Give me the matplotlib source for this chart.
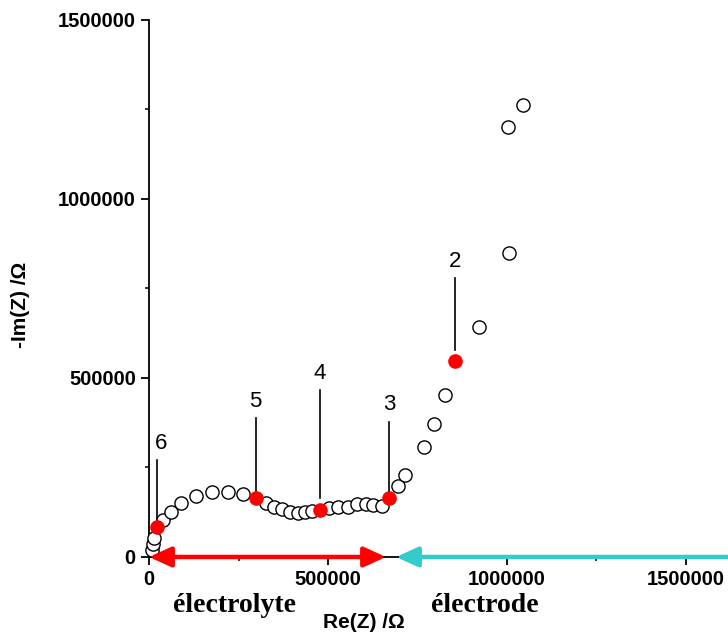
import matplotlib.pyplot as plt
from matplotlib.ticker import MultipleLocator

# impedance data (Nyquist plot)
re_open = [8000, 10000, 14000, 40000, 61500, 89400, 131000, 175000, 220000, 262000,
           326000, 350000, 372000, 394000, 417000, 436000, 456000,
           504000, 529000, 557000, 580000, 605000, 627000, 650000,
           695000, 715000, 769000, 797000, 827000, 922000, 1005000, 1003000, 1045000]
im_open = [20000, 35000, 52000, 103000, 126500, 151700, 171000, 181000, 182000, 176000,
           150000, 140500, 133000, 126500, 124000, 125000, 128500,
           136000, 140500, 140500, 148000, 148000, 145000, 143000,
           199000, 229000, 308000, 371500, 452500, 643000, 850000, 1202000, 1262000]

# marked points
re_mark = [23000, 298000, 478000, 670000, 855000]
im_mark = [84600, 164000, 131000, 164000, 548000]
mark_labels = ['6', '5', '4', '3', '2']
lead_top = [271000, 387000, 466000, 378000, 778000]
lead_bot = [84600, 164000, 164000, 164000, 578000]

ticks = [0, 500000, 1000000, 1500000]
tick_labels = ['0', '500000', '1000000', '1500000']

plt.rcParams['font.family'] = ['Liberation Sans', 'DejaVu Sans']

fig = plt.figure(figsize=(7.28, 6.34), dpi=100)
ax = fig.add_axes([0.2047, 0.1215, 0.7376, 0.847])

ax.plot(re_open, im_open, 'o', mfc='white', mec='black', ms=9.5, mew=1.0, zorder=4, clip_on=False)
ax.plot(re_mark, im_mark, 'o', color='#ff0000', ms=9.5, zorder=5, clip_on=False)

for x, lt, lb, lab in zip(re_mark, lead_top, lead_bot, mark_labels):
    dx = 10000 if lab == '6' else 0
    ax.plot([x, x], [lb, lt], color='black', lw=1.2, zorder=3)
    ax.text(x + dx, lt + 18000, lab, ha='center', va='bottom', fontsize=16)

# arrows electrolyte / electrode
ax.annotate('', xy=(0, 0), xytext=(662000, 0), annotation_clip=False,
            arrowprops=dict(arrowstyle='<|-|>,head_length=1.1,head_width=0.5',
                            color='#ff0000', lw=3.2, mutation_scale=12,
                            shrinkA=0, shrinkB=0), zorder=6)
ax.annotate('', xy=(690000, 0), xytext=(1625000, 0), annotation_clip=False,
            arrowprops=dict(arrowstyle='-|>,head_length=1.1,head_width=0.5',
                            color='#33cccc', lw=3.2, mutation_scale=12,
                            shrinkA=0, shrinkB=0), zorder=6)

ax.set_xlim(0, 1500000)
ax.set_ylim(0, 1500000)
ax.spines['top'].set_visible(False)
ax.spines['right'].set_visible(False)
ax.spines['left'].set_linewidth(1.3)
ax.spines['bottom'].set_linewidth(1.3)

ax.set_xticks(ticks)
ax.set_yticks(ticks)
ax.set_xticklabels(tick_labels, fontweight='bold')
ax.set_yticklabels(tick_labels, fontweight='bold')
ax.xaxis.set_minor_locator(MultipleLocator(250000))
ax.yaxis.set_minor_locator(MultipleLocator(250000))
ax.tick_params(which='major', direction='out', length=6, width=1.3, labelsize=14.5)
ax.tick_params(which='minor', direction='out', length=3, width=1.1)

fig.text(364 / 728, 1 - 623 / 634, 'Re(Z) /Ω', ha='center', va='center', fontsize=15, fontweight='bold')
fig.text(20 / 728, 1 - 305 / 634, '-Im(Z) /Ω', ha='center', va='center', fontsize=15,
         fontweight='bold', rotation=90)
fig.text(234 / 728, 1 - 606 / 634, 'électrolyte', ha='center', va='center', fontsize=20,
         fontweight='bold', family='Liberation Serif')
fig.text(485 / 728, 1 - 606 / 634, 'électrode', ha='center', va='center', fontsize=20,
         fontweight='bold', family='Liberation Serif')

fig.savefig('out.png', dpi=100)
